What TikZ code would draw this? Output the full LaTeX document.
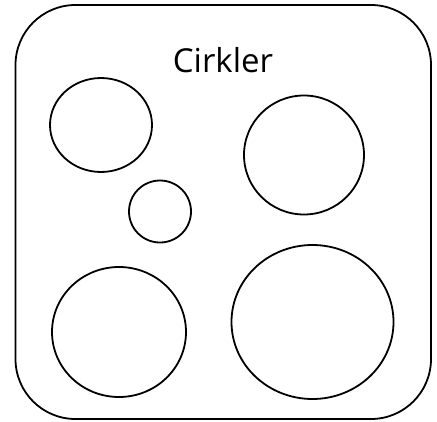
\documentclass[tikz,border=0pt]{standalone}
\usepackage{fontspec}
\setmainfont{Open Sans}
\begin{document}
\begin{tikzpicture}[x=1pt,y=-1pt,
  outl/.style={draw=black,line width=1.8pt}]
\useasboundingbox (0,0) rectangle (437,421);
\draw[outl,rounded corners=60pt] (15.5,5) rectangle (431,419);
\node (title) at (223,60) {\fontsize{33}{39}\selectfont Cirkler};
\draw[outl] (101,125) ellipse [x radius=51,y radius=47];
\draw[outl] (304,155) ellipse [x radius=60,y radius=59.5];
\draw[outl] (160,211.5) ellipse [x radius=31,y radius=31];
\draw[outl] (119,332) ellipse [x radius=67,y radius=65];
\draw[outl] (312.5,322) ellipse [x radius=81,y radius=77];
\end{tikzpicture}
\end{document}
